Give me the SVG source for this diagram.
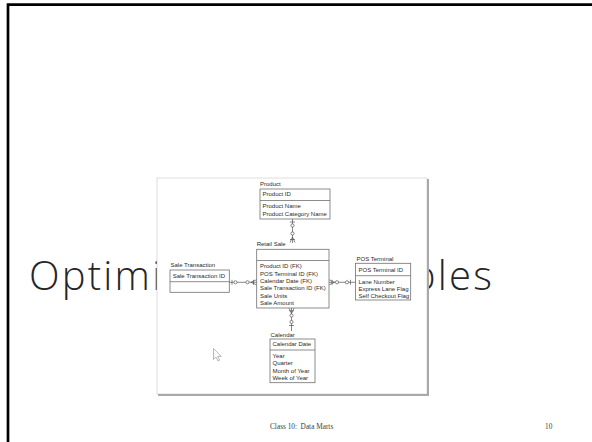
<svg xmlns="http://www.w3.org/2000/svg" width="592" height="442" viewBox="0 0 592 442">
<style>
.title{font-family:"Open Sans","Liberation Sans",sans-serif;font-weight:300;font-size:40px;letter-spacing:2.2px;fill:#262626}
.foot{font-family:"Liberation Serif",serif;font-size:7.3px;fill:#404040}
.t{font-family:"Liberation Sans",Arial,sans-serif;font-size:6px;fill:#2a2a2a}
.box{fill:#fff;stroke:#707070;stroke-width:0.8}
.div{stroke:#707070;stroke-width:0.8}
.ln{stroke:#555;stroke-width:0.7;fill:none}
.cir{fill:#fff;stroke:#555;stroke-width:0.7}
</style>
<rect width="592" height="442" fill="#fff"/>
<path d="M8,442 V4.7 H592" fill="none" stroke="#000" stroke-width="2.7"/>
<text class="title" x="29" y="290">Optimi</text>
<text class="title" x="494" y="290" text-anchor="end">bles</text>
<text class="foot" x="270" y="429" xml:space="preserve">Class 10:  Data Marts</text>
<text class="foot" x="545" y="429">10</text>

<g id="image-frame">
<rect x="157" y="178" width="270" height="216" fill="#fff" stroke="#d4d4d4" stroke-width="0.8"/>
<path d="M428,179 V395 H158" fill="none" stroke="#a8a8a8" stroke-width="2"/>
</g>

<g id="product">
<text class="t" x="260" y="186">Product</text>
<rect class="box" x="260" y="189" width="70" height="30"/>
<line class="div" x1="260" y1="200.5" x2="330" y2="200.5"/>
<text class="t" x="262.5" y="196.3">Product ID</text>
<text class="t" x="262.5" y="207.8">Product Name</text>
<text class="t" x="262.5" y="215.5">Product Category Name</text>
</g>

<g id="retail-sale">
<text class="t" x="256.7" y="245.5">Retail Sale</text>
<rect class="box" x="256.7" y="249.3" width="72.3" height="58.7"/>
<line class="div" x1="256.7" y1="260.5" x2="329" y2="260.5"/>
<text class="t" x="260" y="268.2">Product ID (FK)</text>
<text class="t" x="260" y="275.55">POS Terminal ID (FK)</text>
<text class="t" x="260" y="282.9">Calendar Date (FK)</text>
<text class="t" x="260" y="290.25">Sale Transaction ID (FK)</text>
<text class="t" x="260" y="297.6">Sale Units</text>
<text class="t" x="260" y="304.95">Sale Amount</text>
</g>

<g id="sale-transaction">
<text class="t" x="170.5" y="267">Sale Transaction</text>
<rect class="box" x="170" y="270" width="59.3" height="22.3"/>
<line class="div" x1="170" y1="281.7" x2="229.3" y2="281.7"/>
<text class="t" x="172.7" y="277.8">Sale Transaction ID</text>
</g>

<g id="pos-terminal">
<text class="t" x="356.5" y="261">POS Terminal</text>
<rect class="box" x="355.5" y="263.3" width="55.2" height="36.7"/>
<line class="div" x1="355.5" y1="275.7" x2="410.7" y2="275.7"/>
<text class="t" x="358.5" y="272">POS Terminal ID</text>
<text class="t" x="358.5" y="283.8">Lane Number</text>
<text class="t" x="358.5" y="290.9">Express Lane Flag</text>
<text class="t" x="358.5" y="297.9">Self Checkout Flag</text>
</g>

<g id="calendar">
<text class="t" x="270.5" y="336.5">Calendar</text>
<rect class="box" x="270" y="339" width="45" height="43.7"/>
<line class="div" x1="270" y1="350" x2="315" y2="350"/>
<text class="t" x="272.5" y="346.4">Calendar Date</text>
<text class="t" x="272.5" y="358.1">Year</text>
<text class="t" x="272.5" y="365.4">Quarter</text>
<text class="t" x="272.5" y="373.1">Month of Year</text>
<text class="t" x="272.5" y="380.4">Week of Year</text>
</g>

<g id="cursor">
<path d="M213.5,348.5 V359.5 L216,357 L218,361 L219.6,360.2 L217.7,356.4 L221.2,356.4 Z" fill="#fff" stroke="#9a9a9a" stroke-width="0.7"/>
</g>

<g id="connectors">
<line class="ln" x1="292.5" y1="219" x2="292.5" y2="243"/>
<line class="ln" x1="290" y1="222" x2="295" y2="222"/>
<circle class="cir" cx="292.5" cy="225.5" r="1.6"/>
<circle class="cir" cx="292.5" cy="233.5" r="1.6"/>
<path class="ln" d="M290,242.5 L292.5,237 L295,242.5"/>
<line class="ln" x1="290" y1="239.5" x2="295" y2="239.5"/>
<line class="ln" x1="291.5" y1="308" x2="291.5" y2="331"/>
<path class="ln" d="M289,308.3 L291.5,313.5 L294,308.3"/>
<line class="ln" x1="289" y1="310.8" x2="294" y2="310.8"/>
<circle class="cir" cx="291.5" cy="315.5" r="1.6"/>
<circle class="cir" cx="291.5" cy="322" r="1.6"/>
<line class="ln" x1="289" y1="325.5" x2="294" y2="325.5"/>
<line class="ln" x1="229.3" y1="282.3" x2="256.7" y2="282.3"/>
<line class="ln" x1="232" y1="279.8" x2="232" y2="284.8"/>
<circle class="cir" cx="235.5" cy="282.3" r="1.6"/>
<circle class="cir" cx="247.5" cy="282.3" r="1.6"/>
<path class="ln" d="M256.4,279.8 L250.8,282.3 L256.4,284.8"/>
<line class="ln" x1="253.5" y1="279.8" x2="253.5" y2="284.8"/>
<line class="ln" x1="329" y1="282.3" x2="355.5" y2="282.3"/>
<path class="ln" d="M329.3,279.8 L334.5,282.3 L329.3,284.8"/>
<line class="ln" x1="332" y1="279.8" x2="332" y2="284.8"/>
<circle class="cir" cx="337" cy="282.3" r="1.6"/>
<circle class="cir" cx="347" cy="282.3" r="1.6"/>
<line class="ln" x1="350.5" y1="279.8" x2="350.5" y2="284.8"/>
</g>
</svg>
